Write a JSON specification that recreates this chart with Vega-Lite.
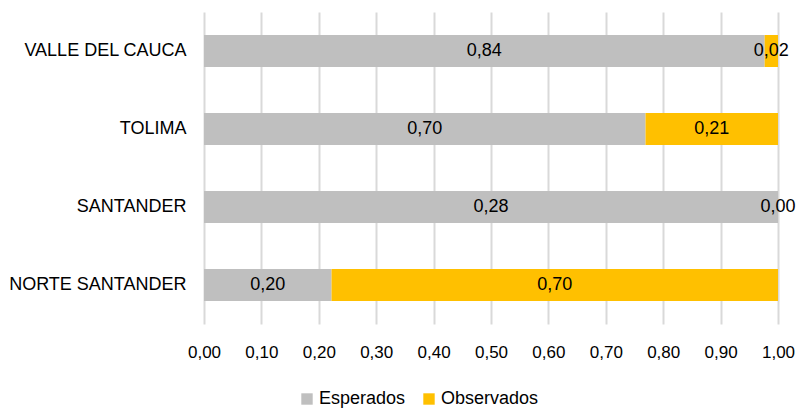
{
  "$schema": "https://vega.github.io/schema/vega-lite/v6.json",
  "width": 574,
  "height": 312,
  "autosize": {"type": "none"},
  "padding": {"left": 204, "top": 12, "right": 21, "bottom": 85},
  "background": "white",
  "config": {
    "locale": {"number": {"decimal": ",", "thousands": ".", "grouping": [3], "currency": ["", " €"]}},
    "font": "Liberation Sans",
    "view": {"stroke": null}
  },
  "data": {
    "values": [
      {"dept": "VALLE DEL CAUCA", "serie": "Esperados", "orden": 1, "valor": 0.84},
      {"dept": "VALLE DEL CAUCA", "serie": "Observados", "orden": 2, "valor": 0.02},
      {"dept": "TOLIMA", "serie": "Esperados", "orden": 1, "valor": 0.70},
      {"dept": "TOLIMA", "serie": "Observados", "orden": 2, "valor": 0.21},
      {"dept": "SANTANDER", "serie": "Esperados", "orden": 1, "valor": 0.28},
      {"dept": "SANTANDER", "serie": "Observados", "orden": 2, "valor": 0.00},
      {"dept": "NORTE SANTANDER", "serie": "Esperados", "orden": 1, "valor": 0.20},
      {"dept": "NORTE SANTANDER", "serie": "Observados", "orden": 2, "valor": 0.70}
    ]
  },
  "transform": [
    {"stack": "valor", "groupby": ["dept"], "sort": [{"field": "orden"}], "offset": "normalize", "as": ["x0", "x1"]},
    {"calculate": "(datum.x0 + datum.x1) / 2", "as": "xm"}
  ],
  "encoding": {
    "y": {
      "field": "dept",
      "type": "nominal",
      "sort": ["VALLE DEL CAUCA", "TOLIMA", "SANTANDER", "NORTE SANTANDER"],
      "scale": {"paddingInner": 0.59, "paddingOuter": 0.295},
      "axis": {"title": null, "domain": false, "ticks": false, "labelPadding": 18, "labelFontSize": 18, "labelColor": "#000000", "labelFont": "Liberation Sans", "labelLimit": 0}
    }
  },
  "layer": [
    {
      "mark": {"type": "bar"},
      "encoding": {
        "x": {
          "field": "x0",
          "type": "quantitative",
          "scale": {"domain": [0, 1], "nice": false},
          "axis": {
            "title": null,
            "values": [0, 0.1, 0.2, 0.3, 0.4, 0.5, 0.6, 0.7, 0.8, 0.9, 1],
            "format": ".2f",
            "domain": false,
            "ticks": false,
            "labelPadding": 20,
            "labelFontSize": 17,
            "labelColor": "#000000",
            "labelFont": "Liberation Sans",
            "grid": true,
            "gridColor": "#D9D9D9",
            "gridWidth": 2,
            "labelFlush": false
          }
        },
        "x2": {"field": "x1"},
        "color": {
          "field": "serie",
          "type": "nominal",
          "scale": {"domain": ["Esperados", "Observados"], "range": ["#BFBFBF", "#FFC000"]},
          "legend": {
            "title": null,
            "orient": "none",
            "legendX": 94,
            "legendY": 378,
            "direction": "horizontal",
            "symbolType": "square",
            "symbolSize": 130,
            "symbolStrokeWidth": 0,
            "labelFontSize": 18,
            "labelColor": "#000000",
            "labelFont": "Liberation Sans",
            "labelOffset": 3,
            "columnPadding": 14
          }
        }
      }
    },
    {
      "mark": {"type": "text", "fontSize": 18, "color": "#000000", "font": "Liberation Sans"},
      "encoding": {
        "x": {"field": "xm", "type": "quantitative"},
        "text": {"field": "valor", "type": "quantitative", "format": ".2f"}
      }
    }
  ]
}
